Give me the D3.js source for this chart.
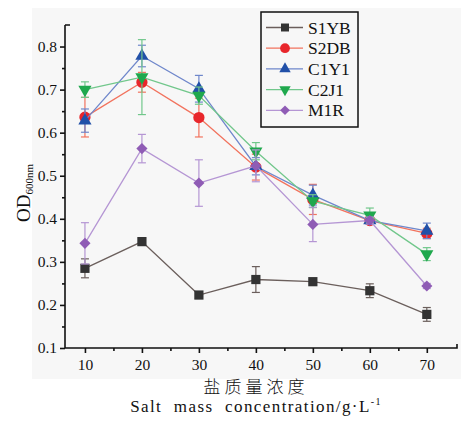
<!DOCTYPE html>
<html>
<head>
<meta charset="utf-8">
<script src="https://cdn.jsdelivr.net/npm/d3@7/dist/d3.min.js"></script>
<style>
  body { margin: 0; background: #fff; }
  text { font-family: "Liberation Serif", "Times New Roman", Times, serif; fill: #111; }
</style>
</head>
<body>
<div id="chart"></div>
<script>
// salt concentration (g/L)
const salt = [10, 20, 30, 40, 50, 60, 70];
const seriesNames = ["S1YB", "S2DB", "C1Y1", "C2J1", "M1R"];

// OD600 means and error bars
const S1YB = [0.285, 0.347, 0.223, 0.259, 0.254, 0.233, 0.178];
const S1YBErr = [0.022, 0.008, 0.008, 0.030, 0.005, 0.016, 0.016];
const S2DB = [0.636, 0.717, 0.635, 0.520, 0.445, 0.396, 0.366];
const S2DBErr = [0.046, 0.023, 0.045, 0.030, 0.035, 0.008, 0.012];
const C1Y1 = [0.628, 0.778, 0.702, 0.522, 0.455, 0.396, 0.372];
const C1Y1Err = [0.027, 0.025, 0.031, 0.020, 0.023, 0.008, 0.018];
const C2J1 = [0.700, 0.729, 0.686, 0.557, 0.441, 0.408, 0.318];
const C2J1Err = [0.018, 0.087, 0.020, 0.020, 0.015, 0.017, 0.015];
const M1R = [0.343, 0.563, 0.483, 0.523, 0.387, 0.396, 0.244];
const M1RErr = [0.048, 0.033, 0.054, 0.037, 0.040, 0.008, 0.006];

const yTicks = [0.1, 0.2, 0.3, 0.4, 0.5, 0.6, 0.7, 0.8];

const values = [S1YB, S2DB, C1Y1, C2J1, M1R];
const errors = [S1YBErr, S2DBErr, C1Y1Err, C2J1Err, M1RErr];
const markColors = ["#333333", "#e8262b", "#2150a8", "#1fa84d", "#8f5cb5"];
const lineColors = ["#6b5f5c", "#f2735e", "#6f87cb", "#71c78b", "#b596d4"];
const shapes = [
  { type: d3.symbolSquare, size: 85, rot: 0 },
  { type: d3.symbolCircle, size: 100, rot: 0 },
  { type: d3.symbolTriangle, size: 75, rot: 0 },
  { type: d3.symbolTriangle, size: 75, rot: 180 },
  { type: d3.symbolSquare, size: 62, rot: 45 }
];

const serif = '"Liberation Serif", "Times New Roman", Times, serif';
const width = 461, height = 424;
const svg = d3.select("#chart").append("svg")
  .attr("width", width).attr("height", height);

// light panel behind the plot
svg.append("rect")
  .attr("x", 32).attr("y", 8)
  .attr("width", 429).attr("height", 371)
  .attr("fill", "#f7f7f7");

const x = d3.scaleLinear().domain([6.5, 75.3]).range([65, 457]);
const y = d3.scaleLinear().domain([0.1, 0.85]).range([348, 25]);

// axes
const yAxis = svg.append("g")
  .attr("transform", `translate(${x.range()[0]},0)`)
  .call(d3.axisLeft(y).tickValues(yTicks).tickFormat(d3.format(".1f")).tickSize(5).tickPadding(3));
yAxis.select(".domain").attr("d", `M0,${y(0.85)}H5M0,${y(0.85)}V${y(0.1)}`);

svg.append("g")
  .attr("transform", `translate(${x.range()[0]},0)`)
  .call(d3.axisLeft(y).tickValues(d3.range(0.15, 0.8, 0.1)).tickFormat("").tickSize(3))
  .select(".domain").remove();

const xAxis = svg.append("g")
  .attr("transform", `translate(0,${y(0.1)})`)
  .call(d3.axisBottom(x).tickValues(salt).tickSize(5).tickPadding(6));
xAxis.select(".domain").attr("d", `M${x(6.5)},0H${x(75.3)}V-4`);

svg.append("g")
  .attr("transform", `translate(0,${y(0.1)})`)
  .call(d3.axisBottom(x).tickValues(d3.range(15, 70, 10)).tickFormat("").tickSize(3))
  .select(".domain").remove();

svg.selectAll("g").attr("font-family", serif);
svg.selectAll(".tick line, .domain").attr("stroke", "#111").attr("stroke-width", 1.6);
svg.selectAll(".tick text")
  .style("font-family", serif)
  .style("font-size", "15.5px")
  .attr("fill", "#111");

// series
const line = d3.line().x((d, i) => x(salt[i])).y(d => y(d));
values.forEach((vals, s) => {
  const g = svg.append("g");
  g.append("path")
    .attr("d", line(vals))
    .attr("fill", "none")
    .attr("stroke", lineColors[s])
    .attr("stroke-width", 1.3);

  const eb = g.selectAll(".eb").data(vals).enter().append("g");
  eb.append("line")
    .attr("x1", (d, i) => x(salt[i])).attr("x2", (d, i) => x(salt[i]))
    .attr("y1", (d, i) => y(d - errors[s][i])).attr("y2", (d, i) => y(d + errors[s][i]));
  eb.append("line")
    .attr("x1", (d, i) => x(salt[i]) - 4).attr("x2", (d, i) => x(salt[i]) + 4)
    .attr("y1", (d, i) => y(d + errors[s][i])).attr("y2", (d, i) => y(d + errors[s][i]));
  eb.append("line")
    .attr("x1", (d, i) => x(salt[i]) - 4).attr("x2", (d, i) => x(salt[i]) + 4)
    .attr("y1", (d, i) => y(d - errors[s][i])).attr("y2", (d, i) => y(d - errors[s][i]));
  eb.selectAll("line").attr("stroke", lineColors[s]).attr("stroke-width", 1.2);

  g.selectAll(".mk").data(vals).enter().append("path")
    .attr("d", d3.symbol().type(shapes[s].type).size(shapes[s].size))
    .attr("transform", (d, i) => `translate(${x(salt[i])},${y(d)}) rotate(${shapes[s].rot})`)
    .attr("fill", markColors[s]);
});

// legend
const legend = svg.append("g");
legend.append("rect")
  .attr("x", 261).attr("y", 12)
  .attr("width", 97).attr("height", 115)
  .attr("fill", "#f7f7f7")
  .attr("stroke", "#111").attr("stroke-width", 1.5);

seriesNames.forEach((name, s) => {
  const ly = 27.5 + s * 20.7;
  legend.append("line")
    .attr("x1", 266).attr("x2", 303).attr("y1", ly).attr("y2", ly)
    .attr("stroke", lineColors[s]).attr("stroke-width", 1.3);
  legend.append("path")
    .attr("d", d3.symbol().type(shapes[s].type).size(shapes[s].size * 0.75))
    .attr("transform", `translate(285,${ly}) rotate(${shapes[s].rot})`)
    .attr("fill", markColors[s]);
  legend.append("text")
    .attr("x", 308).attr("y", ly + 6)
    .style("font-family", serif)
    .style("font-size", "17.5px")
    .text(name);
});

// axis titles
const yTitle = svg.append("text")
  .attr("transform", "translate(30,193) rotate(-90)")
  .attr("text-anchor", "middle")
  .style("font-family", serif)
  .style("font-size", "19px");
yTitle.append("tspan").text("OD");
yTitle.append("tspan").text("600nm").style("font-size", "11px").attr("dy", 3);

svg.append("text")
  .attr("x", 256).attr("y", 393)
  .attr("text-anchor", "middle")
  .style("font-family", "Noto Sans CJK SC, sans-serif")
  .style("font-weight", 300)
  .style("font-size", "17px")
  .style("letter-spacing", "4px")
  .attr("fill", "#333")
  .text("盐质量浓度");

const xTitle = svg.append("text")
  .attr("x", 256).attr("y", 412)
  .attr("text-anchor", "middle")
  .style("font-family", serif)
  .style("font-size", "17px")
  .style("letter-spacing", "1.4px")
  .style("word-spacing", "6px");
xTitle.append("tspan").text("Salt mass concentration/g·L");
xTitle.append("tspan").text("-1").style("font-size", "10px").attr("dy", -7);
</script>
</body>
</html>
